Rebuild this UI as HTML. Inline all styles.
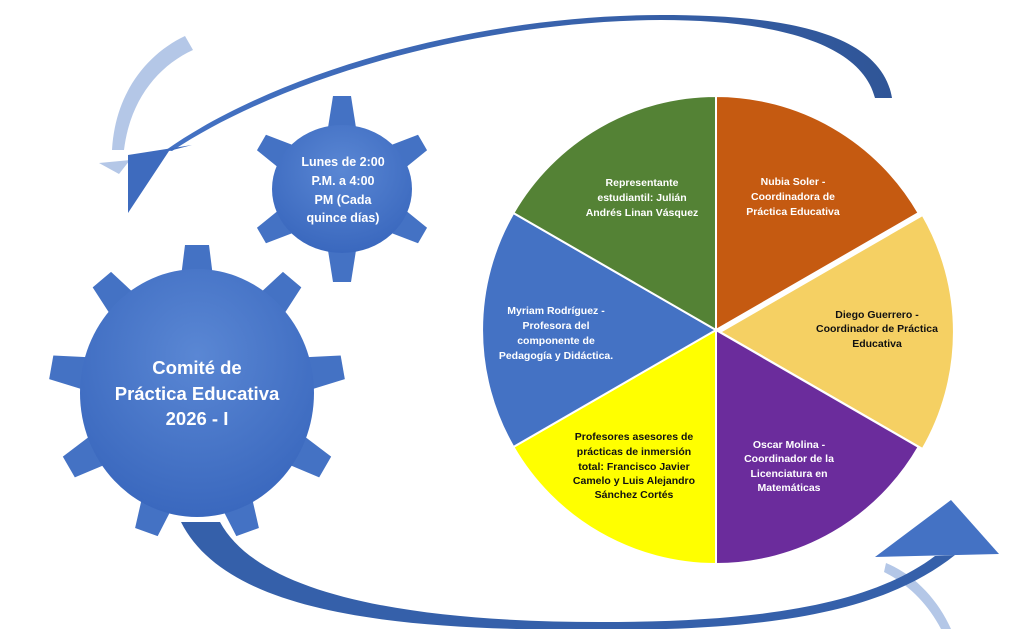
<!DOCTYPE html>
<html><head><meta charset="utf-8"><style>
html,body{margin:0;padding:0;background:#fff;}
svg{display:block;}
text{font-family:"Liberation Sans",sans-serif;font-weight:bold;}
</style></head><body>
<svg width="1024" height="629" viewBox="0 0 1024 629" xmlns="http://www.w3.org/2000/svg">
<defs>
<radialGradient id="g1" cx="50%" cy="35%" r="65%">
<stop offset="0" stop-color="#5A87D4"/><stop offset="1" stop-color="#3A68BE"/></radialGradient>
<linearGradient id="ar" x1="0" y1="0" x2="1" y2="0">
<stop offset="0" stop-color="#4472C4"/><stop offset="1" stop-color="#2F5597"/></linearGradient>
</defs>

<!-- light arrows -->
<path d="M185,36 L193,50 C158,66 130,100 124,150 L112,150 C115,95 145,55 185,36 Z" fill="#B4C7E7"/>
<polygon points="99,163 130,160 119,174" fill="#B4C7E7"/>
<path d="M886,563 C915,575 938,600 951,629 L941,629 C928,604 908,584 884,572 Z" fill="#B4C7E7"/>

<!-- top arrow -->
<path d="M892,98 C880,25 760,15 661,15 C480,15 280,70 166,150 L172,151 C285,76 480,21 661,20 C760,20 860,38 875,98 Z" fill="url(#ar)"/>
<polygon points="128,155 192,145 169,151 128,213" fill="#3E6BBE"/>

<!-- bottom arrow -->
<path d="M181,522 C230,620 420,630 600,630 C760,630 880,615 955,555 L935,556 C870,605 760,622 600,622 C430,622 262,600 220,522 Z" fill="#3560AA"/>
<polygon points="875,557 951,500 999,554" fill="#4472C4"/>

<!-- big gear -->
<g transform="translate(197,393)" fill="#4472C4">
<polygon transform="rotate(-90)" points="100,-18 148,-12 148,12 100,18"/>
<polygon transform="rotate(-50)" points="100,-18 148,-12 148,12 100,18"/>
<polygon transform="rotate(-10)" points="100,-18 148,-12 148,12 100,18"/>
<polygon transform="rotate(30)" points="100,-18 148,-12 148,12 100,18"/>
<polygon transform="rotate(70)" points="100,-18 148,-12 148,12 100,18"/>
<polygon transform="rotate(110)" points="100,-18 148,-12 148,12 100,18"/>
<polygon transform="rotate(150)" points="100,-18 148,-12 148,12 100,18"/>
<polygon transform="rotate(190)" points="100,-18 148,-12 148,12 100,18"/>
<polygon transform="rotate(230)" points="100,-18 148,-12 148,12 100,18"/>
<ellipse cx="0" cy="0" rx="117" ry="124" fill="url(#g1)"/>
</g>
<text fill="#fff" font-size="18.5" text-anchor="middle"><tspan x="197" y="374">Comité de</tspan><tspan x="197" y="400">Práctica Educativa</tspan><tspan x="197" y="425">2026 - I</tspan></text>

<!-- small gear -->
<g transform="translate(342,189)" fill="#4472C4">
<polygon transform="rotate(-90)" points="55,-15 93,-9 93,9 55,15"/>
<polygon transform="rotate(-30)" points="55,-15 93,-9 93,9 55,15"/>
<polygon transform="rotate(30)" points="55,-15 93,-9 93,9 55,15"/>
<polygon transform="rotate(90)" points="55,-15 93,-9 93,9 55,15"/>
<polygon transform="rotate(150)" points="55,-15 93,-9 93,9 55,15"/>
<polygon transform="rotate(210)" points="55,-15 93,-9 93,9 55,15"/>
<ellipse cx="0" cy="0" rx="70" ry="64" fill="url(#g1)"/>
</g>
<text fill="#fff" font-size="12.5" text-anchor="middle"><tspan x="343" y="166">Lunes de 2:00</tspan><tspan x="343" y="185">P.M. a 4:00</tspan><tspan x="343" y="204">PM (Cada</tspan><tspan x="343" y="222">quince días)</tspan></text>

<!-- pie -->
<g stroke="#fff" stroke-width="2">
<path d="M716,330 L716,96 A234,234 0 0 1 918.6,213 Z" fill="#C55A11"/>
<path d="M720,332 L922.6,215 A234,234 0 0 1 922.6,449 Z" fill="#F5D063"/>
<path d="M716,330 L918.6,447 A234,234 0 0 1 716,564 Z" fill="#6B2C9C"/>
<path d="M716,330 L716,564 A234,234 0 0 1 513.4,447 Z" fill="#FFFF00"/>
<path d="M716,330 L513.4,447 A234,234 0 0 1 513.4,213 Z" fill="#4472C4"/>
<path d="M716,330 L513.4,213 A234,234 0 0 1 716,96 Z" fill="#548235"/>
</g>
<g font-size="10.5" text-anchor="middle">
<text fill="#fff"><tspan x="642" y="186">Representante</tspan><tspan x="642" y="201">estudiantil: Julián</tspan><tspan x="642" y="216">Andrés Linan Vásquez</tspan></text>
<text fill="#fff"><tspan x="793" y="185">Nubia Soler -</tspan><tspan x="793" y="200">Coordinadora de</tspan><tspan x="793" y="215">Práctica Educativa</tspan></text>
<text fill="#111"><tspan x="877" y="318">Diego Guerrero -</tspan><tspan x="877" y="332">Coordinador de Práctica</tspan><tspan x="877" y="347">Educativa</tspan></text>
<text fill="#fff"><tspan x="789" y="448">Oscar Molina -</tspan><tspan x="789" y="462">Coordinador de la</tspan><tspan x="789" y="477">Licenciatura en</tspan><tspan x="789" y="491">Matemáticas</tspan></text>
<text fill="#111"><tspan x="634" y="440">Profesores asesores de</tspan><tspan x="634" y="455">prácticas de inmersión</tspan><tspan x="634" y="470">total: Francisco Javier</tspan><tspan x="634" y="484">Camelo y Luis Alejandro</tspan><tspan x="634" y="498">Sánchez Cortés</tspan></text>
<text fill="#fff"><tspan x="556" y="314">Myriam Rodríguez -</tspan><tspan x="556" y="329">Profesora del</tspan><tspan x="556" y="344">componente de</tspan><tspan x="556" y="359">Pedagogía y Didáctica.</tspan></text>
</g>
</svg>
</body></html>
